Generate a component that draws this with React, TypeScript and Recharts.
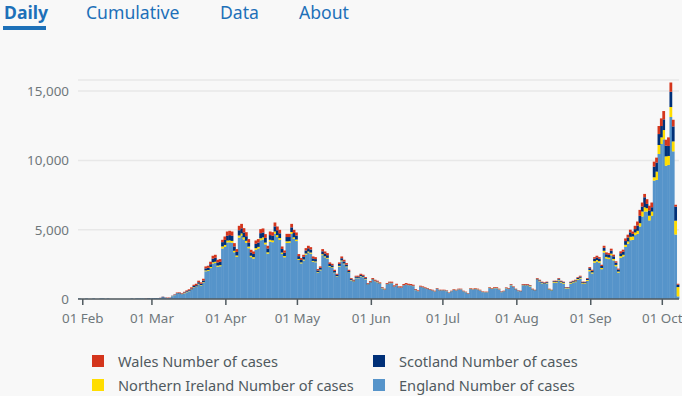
import { BarChart, Bar, XAxis, YAxis, CartesianGrid } from "recharts";

// daily cases by specimen date, 30 Jan 2020 -> 7 Oct 2020 (one value per day)
const england = [
  40, 0, 0, 40, 0, 0, 40, 0, 0, 40,
  40, 0, 40, 0, 0, 0, 0, 0, 0, 0,
  0, 0, 40, 0, 40, 40, 40, 40, 30, 30,
  40, 40, 50, 60, 70, 110, 100, 60, 80, 200,
  280, 390, 390, 330, 410, 490, 550, 660, 820, 880,
  1060, 960, 1170, 2000, 2030, 2230, 2560, 2600, 2330, 2360,
  3650, 3760, 4080, 4090, 4060, 3370, 3040, 4430, 4580, 4300,
  4060, 3660, 3020, 2920, 3550, 3640, 4240, 4300, 3940, 3270,
  4140, 4100, 4720, 4470, 4270, 3250, 3010, 4040, 4050, 4700,
  4330, 4180, 2820, 2570, 2780, 3200, 3350, 3270, 2690, 2650,
  1900, 2070, 3160, 3010, 2910, 2330, 2240, 1870, 1620, 2340,
  2720, 2510, 2300, 1880, 1350, 1240, 1500, 1500, 1630, 1570,
  1420, 1030, 1170, 1370, 1260, 1200, 1090, 770, 660, 1050,
  1140, 1130, 880, 990, 810, 810, 970, 1030, 990, 970,
  930, 640, 555, 870, 830, 760, 720, 650, 600, 540,
  720, 610, 610, 610, 565, 430, 540, 660, 610, 685,
  685, 545, 480, 385, 720, 680, 720, 680, 610, 500,
  480, 480, 790, 720, 780, 780, 680, 490, 540, 760,
  720, 980, 830, 670, 560, 530, 970, 970, 970, 910,
  665, 600, 1370, 1260, 1130, 1080, 1120, 650, 590, 1170,
  1170, 1340, 1170, 1100, 760, 760, 1100, 1160, 1220, 1380,
  1470, 1090, 1090, 1310, 2000, 1840, 2620, 2700, 2620, 2150,
  3350, 2930, 2880, 3150, 2780, 2360, 1900, 2970, 3070, 3760,
  3990, 4240, 4270, 4610, 4700, 5230, 5950, 6310, 6310, 5670,
  6000, 8540, 8590, 10460, 11180, 11520, 9620, 9670, 13130, 10650,
  4650, 190,
];

const northernIreland = [
  0, 0, 0, 0, 0, 0, 0, 0, 0, 0,
  0, 0, 0, 0, 0, 0, 0, 0, 0, 0,
  0, 0, 0, 0, 0, 0, 0, 0, 0, 0,
  0, 0, 0, 0, 0, 0, 0, 0, 0, 10,
  10, 10, 10, 10, 20, 20, 20, 30, 30, 30,
  40, 40, 40, 60, 60, 80, 90, 90, 80, 80,
  140, 140, 140, 140, 130, 110, 100, 150, 150, 150,
  140, 120, 100, 100, 120, 120, 140, 140, 130, 100,
  130, 130, 150, 140, 130, 100, 90, 120, 120, 130,
  120, 110, 70, 70, 70, 80, 80, 80, 60, 60,
  40, 50, 70, 70, 60, 50, 50, 40, 30, 50,
  60, 50, 50, 40, 30, 30, 30, 30, 30, 30,
  30, 20, 20, 30, 20, 20, 20, 20, 20, 10,
  20, 10, 10, 10, 10, 10, 10, 10, 10, 10,
  10, 10, 10, 10, 10, 10, 10, 10, 10, 10,
  10, 10, 10, 10, 10, 10, 10, 10, 10, 10,
  10, 10, 10, 5, 20, 15, 20, 15, 10, 10,
  10, 10, 20, 20, 20, 20, 15, 10, 10, 20,
  10, 20, 10, 15, 10, 10, 20, 20, 20, 30,
  20, 10, 30, 30, 30, 30, 30, 40, 30, 50,
  50, 50, 50, 50, 30, 30, 50, 50, 50, 60,
  60, 50, 50, 60, 90, 80, 110, 110, 110, 90,
  130, 110, 110, 120, 110, 100, 80, 120, 120, 150,
  160, 250, 240, 190, 220, 240, 360, 310, 240, 340,
  310, 240, 600, 650, 480, 670, 670, 650, 720, 720,
  1000, 670,
];

const scotland = [
  0, 0, 0, 0, 0, 0, 0, 0, 0, 0,
  0, 0, 0, 0, 0, 0, 0, 0, 0, 0,
  0, 0, 0, 0, 0, 0, 0, 0, 0, 30,
  10, 20, 20, 10, 10, 50, 10, 0, 10, 20,
  20, 30, 40, 40, 40, 50, 60, 70, 90, 90,
  110, 100, 120, 150, 160, 200, 260, 280, 230, 240,
  310, 360, 340, 380, 370, 310, 260, 380, 370, 350,
  330, 290, 240, 230, 310, 310, 370, 360, 340, 270,
  340, 330, 370, 350, 340, 260, 240, 310, 300, 340,
  310, 290, 200, 180, 190, 220, 230, 220, 180, 170,
  120, 130, 210, 200, 190, 150, 140, 110, 90, 140,
  160, 150, 130, 100, 70, 60, 80, 80, 80, 70,
  60, 50, 50, 40, 40, 40, 30, 30, 20, 30,
  30, 30, 20, 20, 20, 20, 20, 20, 20, 20,
  20, 20, 10, 20, 20, 20, 20, 20, 20, 10,
  20, 20, 20, 20, 20, 10, 20, 10, 10, 10,
  10, 15, 10, 10, 10, 10, 10, 10, 10, 10,
  10, 10, 10, 10, 10, 10, 10, 20, 20, 20,
  20, 30, 30, 30, 30, 30, 40, 40, 40, 30,
  30, 30, 60, 50, 50, 50, 60, 30, 30, 60,
  60, 70, 60, 60, 40, 40, 60, 70, 70, 90,
  90, 70, 70, 90, 130, 120, 180, 190, 180, 140,
  210, 190, 190, 210, 190, 160, 130, 210, 220, 270,
  290, 320, 190, 240, 380, 530, 360, 720, 310, 380,
  310, 770, 650, 790, 820, 770, 770, 720, 1100, 1080,
  1010, 170,
];

const wales = [
  0, 0, 0, 0, 0, 0, 0, 0, 0, 0,
  0, 0, 0, 0, 0, 0, 0, 0, 0, 0,
  0, 0, 0, 0, 0, 0, 0, 0, 20, 0,
  0, 0, 0, 0, 10, 10, 10, 40, 20, 10,
  30, 40, 40, 40, 50, 60, 70, 80, 90, 100,
  110, 100, 130, 140, 150, 180, 210, 220, 190, 200,
  170, 250, 310, 310, 310, 240, 200, 320, 320, 310,
  290, 250, 190, 180, 240, 250, 290, 290, 270, 200,
  260, 260, 280, 270, 250, 180, 160, 230, 230, 250,
  230, 220, 150, 130, 150, 170, 180, 170, 140, 140,
  100, 100, 160, 150, 150, 110, 110, 90, 80, 110,
  130, 120, 110, 90, 60, 60, 70, 70, 80, 80,
  70, 50, 60, 70, 70, 60, 60, 40, 45, 60,
  60, 80, 75, 80, 70, 70, 80, 90, 80, 80,
  70, 50, 50, 60, 50, 50, 40, 40, 40, 40,
  40, 30, 30, 30, 30, 30, 30, 40, 40, 40,
  40, 30, 30, 30, 40, 40, 40, 40, 40, 30,
  30, 30, 40, 40, 50, 50, 40, 30, 30, 40,
  40, 50, 40, 30, 25, 30, 50, 50, 50, 40,
  30, 30, 50, 50, 40, 40, 40, 25, 20, 40,
  40, 50, 40, 40, 30, 30, 40, 40, 50, 50,
  60, 40, 40, 50, 80, 70, 110, 120, 110, 90,
  150, 130, 130, 150, 120, 100, 80, 140, 150, 190,
  200, 190, 170, 240, 290, 430, 290, 240, 340, 340,
  340, 360, 360, 580, 550, 600, 430, 620, 670, 480,
  140, 70,
];

const tickDates = [
  "2020-02-01", "2020-03-01", "2020-04-01", "2020-05-01", "2020-06-01",
  "2020-07-01", "2020-08-01", "2020-09-01", "2020-10-01",
];
const tickLabels = ["01 Feb", "01 Mar", "01 Apr", "01 May", "01 Jun", "01 Jul", "01 Aug", "01 Sep", "01 Oct"];
const yTicks = [0, 5000, 10000, 15000];

const firstDay = Date.UTC(2020, 0, 30);
const dates = england.map((_, i) => new Date(firstDay + i * 86400000).toISOString().slice(0, 10));

const chartData = dates.map((date, i) => ({
  date,
  england: england[i],
  northernIreland: northernIreland[i],
  scotland: scotland[i],
  wales: wales[i],
}));

const series = [
  { key: "england", name: "England Number of cases", color: "#5694ca" },
  { key: "northernIreland", name: "Northern Ireland Number of cases", color: "#ffdd00" },
  { key: "scotland", name: "Scotland Number of cases", color: "#003078" },
  { key: "wales", name: "Wales Number of cases", color: "#d4351c" },
];

// legend is laid out row by row, two columns
const legendOrder = ["wales", "scotland", "northernIreland", "england"];

const CHART_W = 682;
const CHART_H = 330;
const PLOT_LEFT = 78;
const PLOT_RIGHT = 3;
const AXIS_Y = 299;
const band = (CHART_W - PLOT_LEFT - PLOT_RIGHT) / england.length;
const font = "'Noto Sans', sans-serif";

const XTick = (props: any) => {
  const { x, payload } = props;
  const idx = tickDates.indexOf(payload.value);
  if (idx < 0) return <g />;
  // the dashboard puts the tick at the start of the day
  const tx = x - band / 2;
  return (
    <g>
      <line x1={tx} x2={tx} y1={AXIS_Y} y2={AXIS_Y + 6} stroke="#505a5f" strokeWidth={1.5} />
      <text x={tx} y={AXIS_Y + 19} textAnchor="middle" dominantBaseline="central" fill="#6f777b" fontSize={13.4} fontFamily={font}>
        {tickLabels[idx]}
      </text>
    </g>
  );
};

const YTick = (props: any) => {
  const { y, payload } = props;
  return (
    <text x={69} y={y} textAnchor="end" dominantBaseline="central" fill="#6f777b" fontSize={13.4} fontFamily={font}>
      {payload.value.toLocaleString("en-GB")}
    </text>
  );
};

// bars sit edge to edge: draw each slightly wider than the day so no seams show
const SolidBar = (props: any) => {
  const { x, y, height, fill } = props;
  if (!height || height <= 0) return <g />;
  return <rect x={x} y={y} width={band + 0.4} height={height} fill={fill} />;
};

const tabs = [
  { label: "Daily", left: 4, active: true },
  { label: "Cumulative", left: 86, active: false },
  { label: "Data", left: 220, active: false },
  { label: "About", left: 299, active: false },
];

export default function App() {
  return (
    <div style={{ position: "relative", width: 682, height: 396, background: "#f8f8f8", fontFamily: font, overflow: "hidden" }}>
      <style>{"body{margin:0;background:#f8f8f8}"}</style>

      {tabs.map((t) => (
        <div
          key={t.label}
          style={{
            position: "absolute",
            left: t.left,
            top: 0,
            height: 24,
            lineHeight: "24px",
            fontSize: 17.6,
            fontWeight: t.active ? 700 : 400,
            color: "#1d70b8",
          }}
        >
          {t.label}
        </div>
      ))}
      <div style={{ position: "absolute", left: 3, top: 26, width: 43, height: 4, background: "#1d70b8" }} />

      <div style={{ position: "absolute", left: 0, top: 0 }}>
        <BarChart
          width={CHART_W}
          height={CHART_H}
          data={chartData}
          margin={{ top: 80, right: PLOT_RIGHT, left: 0, bottom: 0 }}
          barCategoryGap={0}
          barGap={0}
        >
          <CartesianGrid vertical={false} stroke="#e8e8e8" strokeWidth={1.5} />
          <XAxis
            dataKey="date"
            interval={0}
            ticks={tickDates}
            tick={<XTick />}
            tickLine={false}
            axisLine={{ stroke: "#505a5f", strokeWidth: 1.5 }}
            height={CHART_H - AXIS_Y}
          />
          <YAxis
            width={PLOT_LEFT}
            domain={[0, 15800]}
            ticks={yTicks}
            tick={<YTick />}
            axisLine={false}
            tickLine={false}
          />
          {series.map((s) => (
            <Bar
              key={s.key}
              dataKey={s.key}
              name={s.name}
              stackId="cases"
              fill={s.color}
              shape={<SolidBar />}
              isAnimationActive={false}
            />
          ))}
        </BarChart>
      </div>

      {legendOrder.map((key, i) => {
        const s = series.find((v) => v.key === key)!;
        const col = i % 2;
        const row = Math.floor(i / 2);
        const left = col === 0 ? 92 : 373;
        const top = row === 0 ? 355 : 379;
        return (
          <div key={key}>
            <div style={{ position: "absolute", left, top, width: 12, height: 12, background: s.color }} />
            <div
              style={{
                position: "absolute",
                left: left + 26,
                top: top - 4,
                lineHeight: "20px",
                fontSize: 14.6,
                color: "#505a5f",
                whiteSpace: "nowrap",
              }}
            >
              {s.name}
            </div>
          </div>
        );
      })}
    </div>
  );
}
